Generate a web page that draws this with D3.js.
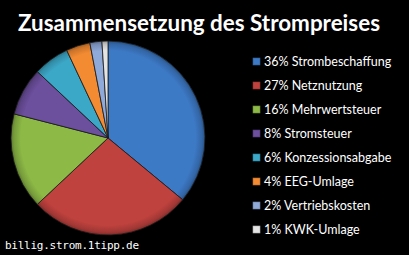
<!DOCTYPE html>
<html><head><meta charset="utf-8">
<script src="https://cdn.jsdelivr.net/npm/d3@7"></script>
<style>html,body{margin:0;padding:0;background:#000;}svg{display:block;}</style>
</head><body>
<script>
const categories = ["Strombeschaffung","Netznutzung","Mehrwertsteuer","Stromsteuer","Konzessionsabgabe","EEG-Umlage","Vertriebskosten","KWK-Umlage"];
const values = [36,27,16,8,6,4,2,1];
const colors = ["#3D7AC6","#BF423E","#8DB946","#6C4F9D","#3CA8C8","#F38B32","#8FA9D8","#E4E4E4"];
const title = "Zusammensetzung des Strompreises";
const footer = "billig.strom.1tipp.de";

const W=409,H=255;
const svg=d3.select("body").append("svg").attr("width",W).attr("height",H);
svg.append("rect").attr("width",W).attr("height",H).attr("fill","#000");
const defs=svg.append("defs");
colors.forEach((c,i)=>{
  const g=defs.append("radialGradient").attr("id","g"+i).attr("gradientUnits","userSpaceOnUse")
    .attr("cx",0).attr("cy",0).attr("r",97);
  g.append("stop").attr("offset","0%").attr("stop-color",c);
  g.append("stop").attr("offset","90%").attr("stop-color",c);
  g.append("stop").attr("offset","97%").attr("stop-color",d3.color(c).darker(0.5));
  g.append("stop").attr("offset","100%").attr("stop-color",d3.color(c).darker(1.2));
});

svg.append("text").attr("x",18).attr("y",31).attr("fill","#fff")
  .attr("font-family","Lato, 'Open Sans', sans-serif").attr("font-weight","bold").attr("font-size",23)
  .attr("textLength",362).attr("lengthAdjust","spacingAndGlyphs").text(title);

const pie=d3.pie().sort(null).value(d=>d);
const arc=d3.arc().innerRadius(0).outerRadius(97);
const g=svg.append("g").attr("transform","translate(108,138)");
g.selectAll("path").data(pie(values)).join("path")
  .attr("d",arc).attr("fill",(d,i)=>`url(#g${i})`)
  .attr("stroke","#1a1a1a").attr("stroke-width",0.8).attr("stroke-linejoin","round");

const y=d3.scalePoint().domain(d3.range(categories.length)).range([62,230]);
const lg=svg.append("g");
categories.forEach((c,i)=>{
  lg.append("rect").attr("x",253).attr("y",y(i)-4).attr("width",7).attr("height",7)
    .attr("fill",colors[i]).attr("stroke",d3.color(colors[i]).darker(0.8)).attr("stroke-width",0.6);
  lg.append("text").attr("x",264).attr("y",y(i)+4).attr("fill","#fff")
    .attr("font-family","Lato, 'Open Sans', sans-serif").attr("font-size",12.5)
    .text(values[i]+"% "+c);
});

svg.append("text").attr("x",5).attr("y",249).attr("fill","#fff")
  .attr("font-family","'DejaVu Sans Mono', monospace").attr("font-size",11)
  .attr("textLength",134).attr("lengthAdjust","spacing").text(footer);
</script>
</body></html>
